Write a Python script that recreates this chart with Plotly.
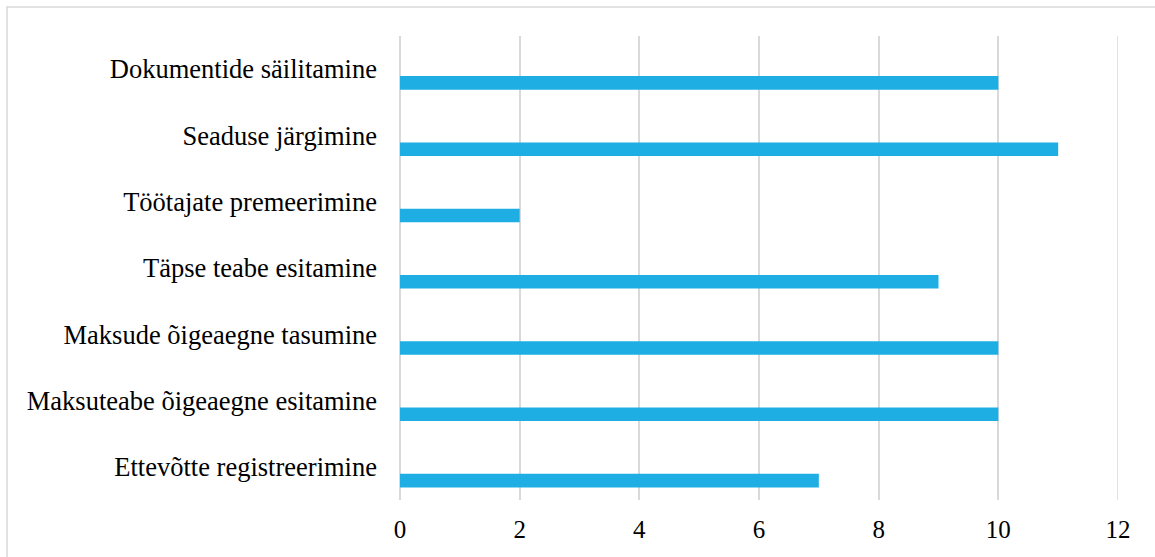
import plotly.graph_objects as go

# Categories listed bottom to top, as drawn on the y axis
categories = [
    "Ettevõtte registreerimine",
    "Maksuteabe õigeaegne esitamine",
    "Maksude õigeaegne tasumine",
    "Täpse teabe esitamine",
    "Töötajate premeerimine",
    "Seaduse järgimine",
    "Dokumentide säilitamine",
]
values = [7, 10, 10, 9, 2, 11, 10]
x_ticks = [0, 2, 4, 6, 8, 10, 12]

W, H = 1155, 557
L, R, T, B = 400, 37, 36, 57
plot_w = W - L - R
plot_h = H - T - B

font_family = "Liberation Serif, Times New Roman, serif"
bar_color = "#1FAEE3"
grid_color = "#D9D9D9"

fig = go.Figure()
fig.add_trace(go.Bar(
    y=categories,
    x=values,
    orientation="h",
    marker=dict(color=bar_color, line=dict(width=0)),
    width=0.205,
    offset=-0.31,
    hoverinfo="x+y",
))

# Chart frame (top and left edges fall inside the page)
x0 = (7 - L) / plot_w
y1 = 1 + (T - 7) / plot_h
fig.add_shape(type="rect", xref="paper", yref="paper",
              x0=x0, x1=1 + (R + 20) / plot_w, y0=-(B + 20) / plot_h, y1=y1,
              line=dict(color=grid_color, width=1.5), fillcolor="rgba(0,0,0,0)",
              layer="below")

# Gridline at the far end of the value axis
fig.add_shape(type="line", xref="x", yref="paper",
              x0=x_ticks[-1], x1=x_ticks[-1], y0=0, y1=1,
              line=dict(color=grid_color, width=1.5), layer="below")

fig.update_layout(
    width=W, height=H,
    margin=dict(l=L, r=R, t=T, b=B),
    paper_bgcolor="white",
    plot_bgcolor="white",
    showlegend=False,
    font=dict(family=font_family, color="black", size=26),
    xaxis=dict(
        range=[0, 12],
        tickvals=x_ticks,
        ticktext=[str(v) for v in x_ticks],
        showgrid=True,
        gridcolor=grid_color,
        gridwidth=1.5,
        zeroline=True,
        zerolinecolor=grid_color,
        zerolinewidth=1.5,
        showline=False,
        ticks="",
        ticklabelstandoff=12,
        tickfont=dict(size=25, family=font_family, color="black"),
        fixedrange=True,
    ),
    yaxis=dict(
        type="category",
        categoryorder="array",
        categoryarray=categories,
        range=[-0.5, 6.5],
        showgrid=False,
        zeroline=False,
        showline=False,
        ticks="",
        ticklabelstandoff=22,
        tickfont=dict(size=26.5, family=font_family, color="black"),
        fixedrange=True,
    ),
)

fig.write_html("out.html")
